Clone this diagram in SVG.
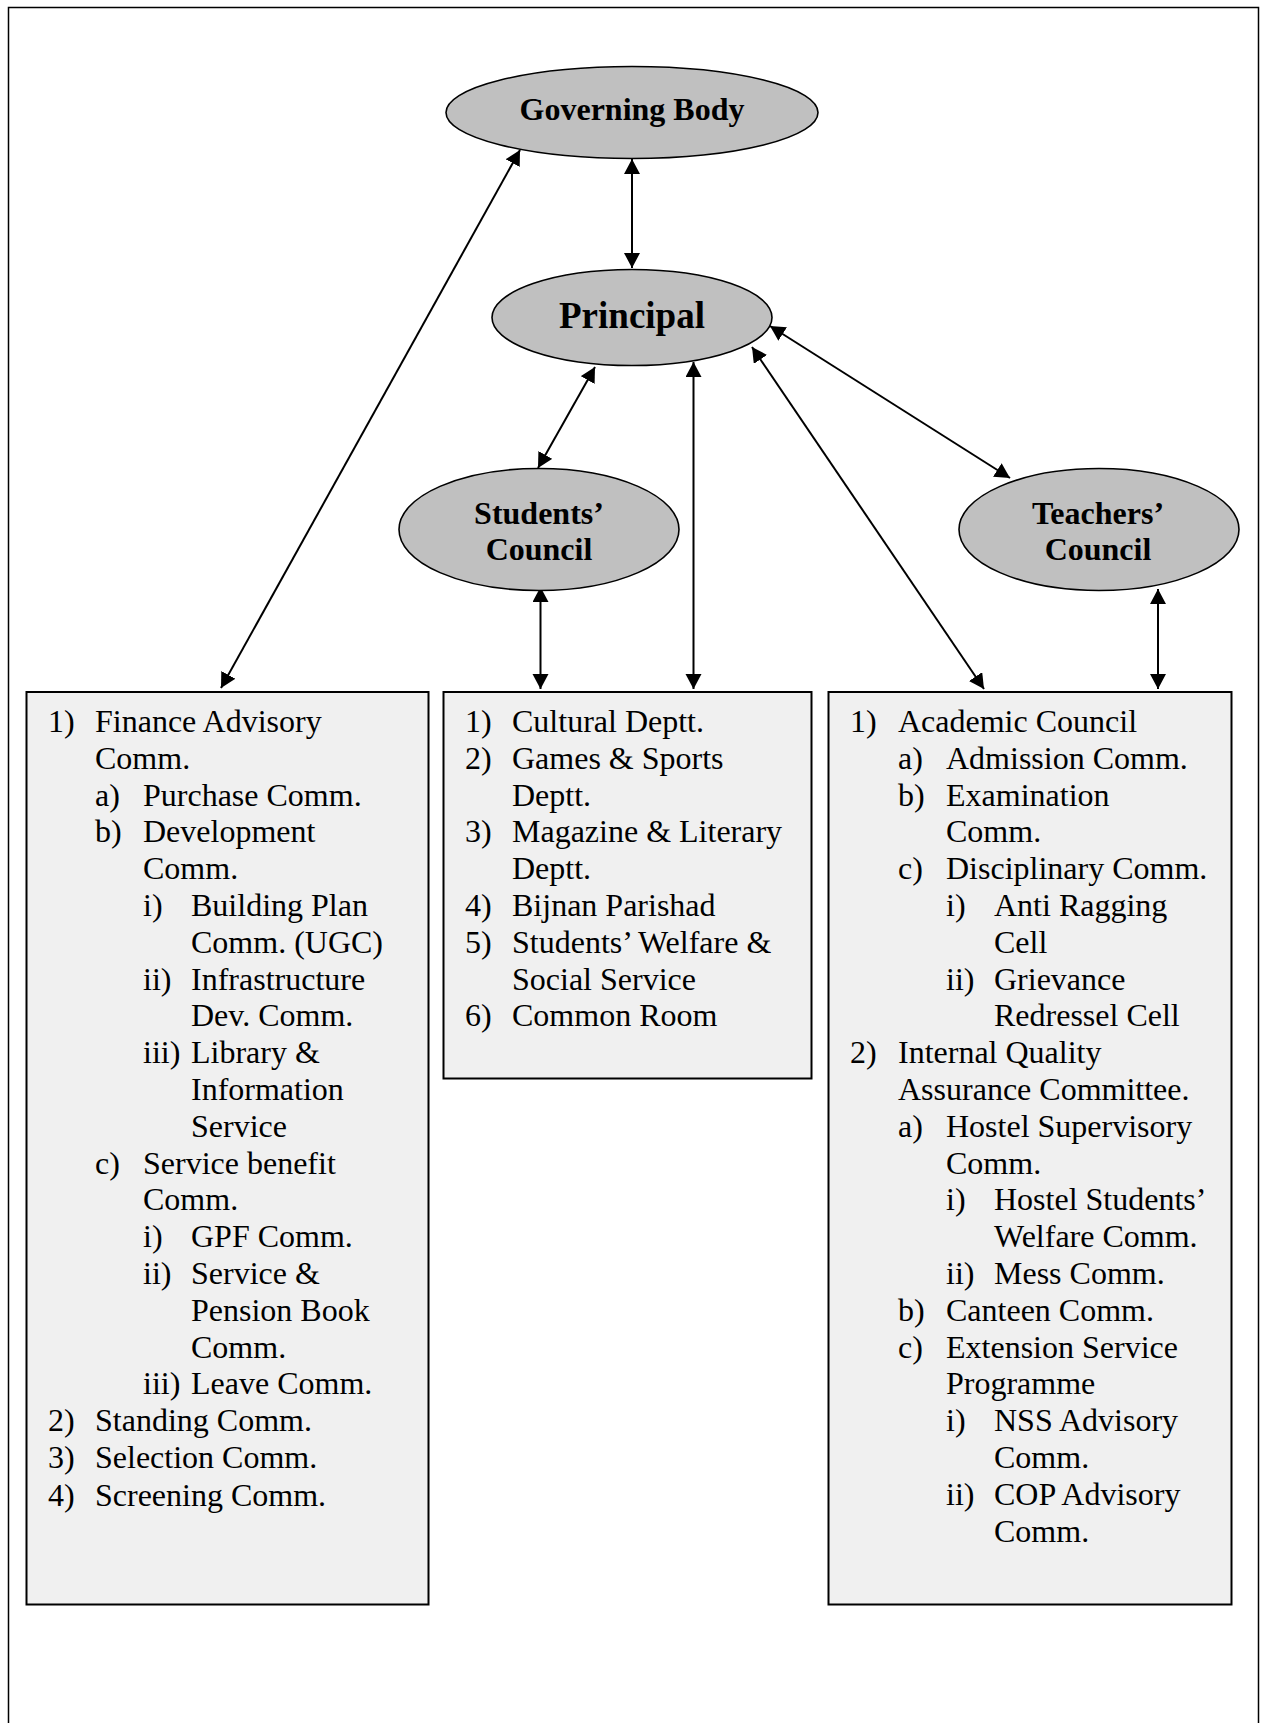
<svg xmlns="http://www.w3.org/2000/svg" width="1266" height="1723" viewBox="0 0 1266 1723">
<style>
.bg{fill:#ffffff}
.frame{fill:none;stroke:#000;stroke-width:1.5}
.oval{fill:#c0c0c0;stroke:#000;stroke-width:1.6}
.box{fill:#f0f0f0;stroke:#000;stroke-width:2}
.ot{font-family:"Liberation Serif","Times New Roman",serif;font-weight:bold;font-size:32px;fill:#000;text-anchor:middle}
.bt{font-family:"Liberation Serif","Times New Roman",serif;font-size:32px;fill:#000}
.con{stroke:#000;stroke-width:2;fill:none;marker-start:url(#ah);marker-end:url(#ah)}
</style>
<defs>
<marker id="ah" markerUnits="userSpaceOnUse" markerWidth="17" markerHeight="17" refX="15" refY="8" orient="auto-start-reverse">
<path d="M0,0 L15,8 L0,16 z" fill="#000"/>
</marker>
</defs>
<rect class="bg" x="0" y="0" width="1266" height="1723"/>
<rect class="frame" x="8.5" y="7.5" width="1250" height="1730"/>

<g id="connectors">
<line class="con" x1="520" y1="150" x2="221" y2="688"/>
<line class="con" x1="632" y1="159" x2="632" y2="268"/>
<line class="con" x1="595" y1="367" x2="538" y2="468"/>
<line class="con" x1="693.5" y1="362" x2="693.5" y2="689"/>
<line class="con" x1="752" y1="347" x2="984" y2="689"/>
<line class="con" x1="770" y1="326" x2="1010" y2="478"/>
<line class="con" x1="540.5" y1="587" x2="540.5" y2="689"/>
<line class="con" x1="1158" y1="589" x2="1158" y2="689"/>
</g>

<g id="governing-body">
<ellipse class="oval" cx="632" cy="112.5" rx="186" ry="46"/>
<text class="ot" x="632" y="120">Governing Body</text>
</g>

<g id="principal">
<ellipse class="oval" cx="632" cy="317.5" rx="140" ry="48"/>
<text class="ot" x="632" y="328" style="font-size:37px">Principal</text>
</g>

<g id="students-council">
<ellipse class="oval" cx="539" cy="529.5" rx="140" ry="61"/>
<text class="ot" x="539" y="524">Students’</text>
<text class="ot" x="539" y="560">Council</text>
</g>

<g id="teachers-council">
<ellipse class="oval" cx="1099" cy="529.5" rx="140" ry="61"/>
<text class="ot" x="1098" y="524">Teachers’</text>
<text class="ot" x="1098" y="560">Council</text>
</g>

<g id="left-box">
<rect class="box" x="26.5" y="692" width="402" height="912.5"/>
<g class="bt">
<text x="48" y="732">1)</text><text x="95" y="732">Finance Advisory</text>
<text x="95" y="768.8">Comm.</text>
<text x="95" y="805.6">a)</text><text x="143" y="805.6">Purchase Comm.</text>
<text x="95" y="842.4">b)</text><text x="143" y="842.4">Development</text>
<text x="143" y="879.2">Comm.</text>
<text x="143" y="916">i)</text><text x="191" y="916">Building Plan</text>
<text x="191" y="952.8">Comm. (UGC)</text>
<text x="143" y="989.6">ii)</text><text x="191" y="989.6">Infrastructure</text>
<text x="191" y="1026.4">Dev. Comm.</text>
<text x="143" y="1063.2">iii)</text><text x="191" y="1063.2">Library &amp;</text>
<text x="191" y="1100">Information</text>
<text x="191" y="1136.8">Service</text>
<text x="95" y="1173.6">c)</text><text x="143" y="1173.6">Service benefit</text>
<text x="143" y="1210.4">Comm.</text>
<text x="143" y="1247.2">i)</text><text x="191" y="1247.2">GPF Comm.</text>
<text x="143" y="1284">ii)</text><text x="191" y="1284">Service &amp;</text>
<text x="191" y="1320.8">Pension Book</text>
<text x="191" y="1357.6">Comm.</text>
<text x="143" y="1394.4">iii)</text><text x="191" y="1394.4">Leave Comm.</text>
<text x="48" y="1431.2">2)</text><text x="95" y="1431.2">Standing Comm.</text>
<text x="48" y="1468">3)</text><text x="95" y="1468">Selection Comm.</text>
<text x="48" y="1505.5">4)</text><text x="95" y="1505.5">Screening Comm.</text>
</g>
</g>

<g id="middle-box">
<rect class="box" x="443.5" y="692" width="368" height="386.5"/>
<g class="bt">
<text x="465" y="732">1)</text><text x="512" y="732">Cultural Deptt.</text>
<text x="465" y="768.8">2)</text><text x="512" y="768.8">Games &amp; Sports</text>
<text x="512" y="805.6">Deptt.</text>
<text x="465" y="842.4">3)</text><text x="512" y="842.4">Magazine &amp; Literary</text>
<text x="512" y="879.2">Deptt.</text>
<text x="465" y="916">4)</text><text x="512" y="916">Bijnan Parishad</text>
<text x="465" y="952.8">5)</text><text x="512" y="952.8">Students’ Welfare &amp;</text>
<text x="512" y="989.6">Social Service</text>
<text x="465" y="1026.4">6)</text><text x="512" y="1026.4">Common Room</text>
</g>
</g>

<g id="right-box">
<rect class="box" x="828.5" y="692" width="403" height="912.5"/>
<g class="bt">
<text x="850" y="732">1)</text><text x="898" y="732">Academic Council</text>
<text x="898" y="768.8">a)</text><text x="946" y="768.8">Admission Comm.</text>
<text x="898" y="805.6">b)</text><text x="946" y="805.6">Examination</text>
<text x="946" y="842.4">Comm.</text>
<text x="898" y="879.2">c)</text><text x="946" y="879.2">Disciplinary Comm.</text>
<text x="946" y="916">i)</text><text x="994" y="916">Anti Ragging</text>
<text x="994" y="952.8">Cell</text>
<text x="946" y="989.6">ii)</text><text x="994" y="989.6">Grievance</text>
<text x="994" y="1026.4">Redressel Cell</text>
<text x="850" y="1063.2">2)</text><text x="898" y="1063.2">Internal Quality</text>
<text x="898" y="1100">Assurance Committee.</text>
<text x="898" y="1136.8">a)</text><text x="946" y="1136.8">Hostel Supervisory</text>
<text x="946" y="1173.6">Comm.</text>
<text x="946" y="1210.4">i)</text><text x="994" y="1210.4">Hostel Students’</text>
<text x="994" y="1247.2">Welfare Comm.</text>
<text x="946" y="1284">ii)</text><text x="994" y="1284">Mess Comm.</text>
<text x="898" y="1320.8">b)</text><text x="946" y="1320.8">Canteen Comm.</text>
<text x="898" y="1357.6">c)</text><text x="946" y="1357.6">Extension Service</text>
<text x="946" y="1394.4">Programme</text>
<text x="946" y="1431.2">i)</text><text x="994" y="1431.2">NSS Advisory</text>
<text x="994" y="1468">Comm.</text>
<text x="946" y="1504.8">ii)</text><text x="994" y="1504.8">COP Advisory</text>
<text x="994" y="1541.6">Comm.</text>
</g>
</g>
</svg>
